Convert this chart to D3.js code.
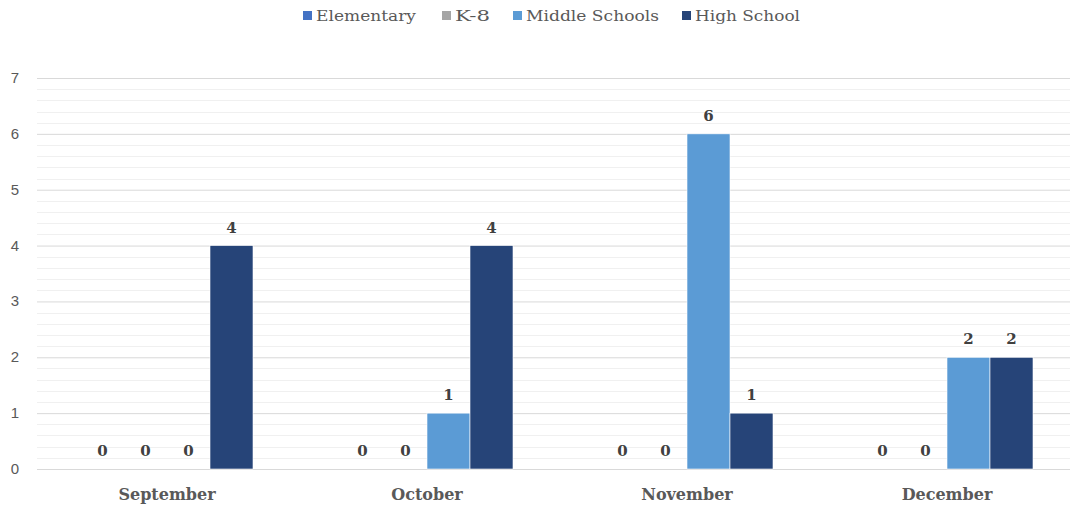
<!DOCTYPE html>
<html><head><meta charset="utf-8">
<script src="https://cdn.jsdelivr.net/npm/d3@7"></script>
<style>body{margin:0;background:#fff;}svg{display:block;}</style>
</head><body>
<svg id="c" width="1070" height="512"></svg>
<script>
const categories = ["September", "October", "November", "December"];
const seriesNames = ["Elementary", "K-8", "Middle Schools", "High School"];
const elementary = [0, 0, 0, 0];
const k8 = [0, 0, 0, 0];
const middleSchools = [0, 1, 6, 2];
const highSchool = [4, 4, 1, 2];
const yTicks = [0, 1, 2, 3, 4, 5, 6, 7];
const colors = ["#4472C4", "#A5A5A5", "#5B9BD5", "#264478"];
const seriesValues = [elementary, k8, middleSchools, highSchool];

const svg = d3.select("#c");
const x0 = d3.scaleBand().domain(categories).range([37, 1077]).padding(0);
const x1 = d3.scaleBand().domain(seriesNames).range([0, 172]);
const y = d3.scaleLinear().domain([0, 7]).range([469, 78]);

// minor gridlines
const minor = d3.range(0, 7.001, 0.2).filter(v => Math.abs(v - Math.round(v)) > 1e-6);
svg.append("g").selectAll("line").data(minor).join("line")
  .attr("x1", 37).attr("x2", 1070)
  .attr("y1", d => Math.round(y(d)) + 0.5).attr("y2", d => Math.round(y(d)) + 0.5)
  .attr("stroke", "#f0f0f0").attr("stroke-width", 1);
// major gridlines via axis
const yAxis = svg.append("g").attr("transform", "translate(37,0)")
  .call(d3.axisLeft(y).tickValues(yTicks).tickSize(-1033).tickFormat(""));
yAxis.select(".domain").remove();
yAxis.selectAll(".tick line").attr("stroke", "#d9d9d9");
// y tick labels
svg.append("g").selectAll("text").data(yTicks).join("text")
  .attr("x", 15).attr("y", d => y(d) + 5).attr("text-anchor", "middle")
  .attr("fill", "#595959")
  .style("font-family", "'Liberation Sans', Arial, sans-serif").style("font-size", "15px")
  .text(d => d);

// bars
const groups = svg.append("g").selectAll("g").data(categories).join("g")
  .attr("transform", d => `translate(${x0(d) + x0.bandwidth() / 2 - 86},0)`);
groups.each(function(cat, ci) {
  const g = d3.select(this);
  seriesNames.forEach((s, si) => {
    const v = seriesValues[si][ci];
    if (v > 0) {
      g.append("rect").attr("x", x1(s)).attr("y", y(v))
        .attr("width", x1.bandwidth()).attr("height", y(0) - y(v))
        .attr("fill", colors[si]).attr("stroke", "#ffffff").attr("stroke-width", 0.6);
    }
    g.append("text").attr("x", x1(s) + x1.bandwidth() / 2).attr("y", y(v) - 13)
      .attr("text-anchor", "middle").attr("fill", "#404040")
      .attr("font-family", "'DejaVu Serif', serif").attr("font-weight", "bold").attr("font-size", 15)
      .text(v);
  });
});

// x labels
svg.append("g").selectAll("text").data(categories).join("text")
  .attr("x", d => x0(d) + x0.bandwidth() / 2).attr("y", 500)
  .attr("text-anchor", "middle").attr("fill", "#595959")
  .attr("font-family", "'DejaVu Serif', serif").attr("font-weight", "bold").attr("font-size", 16)
  .text(d => d);

// legend
const legendX = [303, 442, 513, 682];
const legendW = [100, 35, 133, 105];
const lg = svg.append("g");
seriesNames.forEach((s, i) => {
  lg.append("rect").attr("x", legendX[i]).attr("y", 11).attr("width", 9).attr("height", 9).attr("fill", colors[i]);
  lg.append("text").attr("x", legendX[i] + 13).attr("y", 21).attr("fill", "#595959")
    .attr("font-family", "'DejaVu Serif', serif").attr("font-size", 15)
    .attr("textLength", legendW[i]).attr("lengthAdjust", "spacingAndGlyphs").text(s);
});
</script>
</body></html>
